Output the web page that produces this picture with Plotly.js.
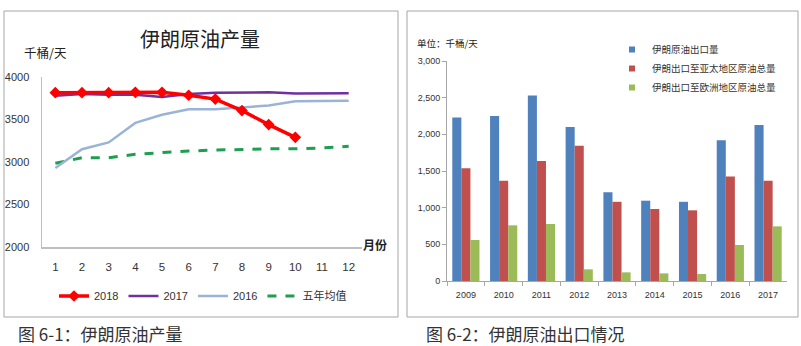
<!DOCTYPE html>
<html>
<head>
<meta charset="utf-8">
<script src="https://cdn.plot.ly/plotly-3.0.1.min.js"></script>
<style>html,body{margin:0;padding:0;background:#fff;overflow:hidden;width:801px;height:346px;}#chart{width:801px;height:346px;overflow:hidden;}</style>
</head>
<body>
<div id="chart"></div>
<script>
// ---- Left chart data: Iran crude production (kb/d) ----
var months = [1,2,3,4,5,6,7,8,9,10,11,12];
var monthLabels = ["1","2","3","4","5","6","7","8","9","10","11","12"];
var prod2018 = [3815,3815,3815,3820,3820,3785,3740,3605,3440,3290];
var prod2017 = [3780,3800,3790,3790,3765,3800,3815,3820,3820,3805,3810,3810];
var prod2016 = [2930,3150,3230,3460,3555,3620,3620,3645,3665,3715,3720,3720];
var prodAvg5 = [2985,3050,3050,3090,3110,3130,3140,3150,3155,3155,3165,3185];

// ---- Right chart data: Iran crude exports (kb/d) ----
var years = ["2009","2010","2011","2012","2013","2014","2015","2016","2017"];
var exportTotal = [2230,2250,2530,2100,1210,1095,1080,1918,2127];
var exportAsia  = [1536,1368,1636,1845,1080,982,964,1425,1368];
var exportEurope= [559,759,777,159,118,104,95,491,745];
var exportNames = ["伊朗原油出口量","伊朗出口至亚太地区原油总量","伊朗出口至欧洲地区原油总量"];
var exportColors = ["#4F81BD","#C0504D","#9BBB59"];

var W = 801, H = 346;
function px(x){return x/W;}
function py(y){return (H-y)/H;}

var cjk = "Noto Sans CJK SC, sans-serif";
var num = "Liberation Sans Narrow, Liberation Sans, Noto Sans CJK SC, sans-serif";

var traces = [
  {x: months, y: prodAvg5, name: "五年均值", type: "scatter", mode: "lines",
   line: {color: "#1E9E50", width: 3, dash: "dash"}, xaxis: "x", yaxis: "y", legend: "legend", legendrank: 4},
  {x: months, y: prod2016, name: "2016", type: "scatter", mode: "lines",
   line: {color: "#9AB4D6", width: 2.5}, xaxis: "x", yaxis: "y", legend: "legend", legendrank: 3},
  {x: months, y: prod2017, name: "2017", type: "scatter", mode: "lines",
   line: {color: "#7030A0", width: 2.5}, xaxis: "x", yaxis: "y", legend: "legend", legendrank: 2},
  {x: months.slice(0, prod2018.length), y: prod2018, name: "2018", type: "scatter", mode: "lines+markers",
   line: {color: "#FF0000", width: 3.5}, marker: {symbol: "diamond", size: 9, color: "#FF0000"},
   xaxis: "x", yaxis: "y", legend: "legend", legendrank: 1}
];

var exportSeries = [exportTotal, exportAsia, exportEurope];
exportSeries.forEach(function(vals, i){
  traces.push({x: years, y: vals, name: exportNames[i], type: "bar", marker: {color: exportColors[i]},
    xaxis: "x2", yaxis: "y2", showlegend: false, legendgroup: "g" + i});
});
// small square legend keys (as in the reference) for the bar series
exportNames.forEach(function(n, i){
  traces.push({x: [null], y: [null], name: n, type: "scatter", mode: "markers",
    marker: {symbol: "square", size: 6, color: exportColors[i]},
    xaxis: "x2", yaxis: "y2", legend: "legend2", legendgroup: "g" + i, legendrank: i + 1});
});

var layout = {
  width: W, height: H, autosize: false,
  margin: {l: 0, r: 0, t: 0, b: 0},
  paper_bgcolor: "#fff", plot_bgcolor: "rgba(0,0,0,0)",
  font: {family: num, color: "#333", size: 11},
  barmode: "group", bargap: 0.28, bargroupgap: 0,
  xaxis: {domain: [px(42), px(362)], range: [0.5, 12.5], tickvals: months, ticktext: monthLabels,
          showgrid: false, zeroline: false, showline: true, linecolor: "#BFBFBF", linewidth: 1.5,
          ticks: "", ticklabelstandoff: 9, tickfont: {size: 11.5, family: num, color: "#333"}, anchor: "y", fixedrange: true},
  yaxis: {domain: [py(247), py(77)], range: [2000, 4000], tickvals: [2000,2500,3000,3500,4000],
          showgrid: false, zeroline: false, showline: true, linecolor: "#BFBFBF", linewidth: 1.5,
          ticks: "", ticklabelstandoff: 9, tickfont: {size: 11, family: num, color: "#333"}, anchor: "x"},
  xaxis2: {domain: [px(447), px(787)], type: "category", showgrid: false, zeroline: false,
           showline: true, linecolor: "#A6A6A6", linewidth: 1, ticks: "outside", ticklen: 4, tickcolor: "#A6A6A6",
           tickson: "boundaries", tickfont: {size: 9, family: num, color: "#333"}, anchor: "y2", ticklabelstandoff: 5},
  yaxis2: {domain: [py(281), py(61)], range: [0, 3000], tickvals: [0,500,1000,1500,2000,2500,3000], tickformat: ",d",
           showgrid: false, zeroline: false, showline: true, linecolor: "#A6A6A6", linewidth: 1,
           ticks: "outside", ticklen: 4, tickcolor: "#A6A6A6", tickfont: {size: 9, family: num, color: "#333"}, anchor: "x2"},
  legend: {orientation: "h", x: px(203), xanchor: "center", y: py(296), yanchor: "middle",
           font: {size: 11, family: num, color: "#333"}, itemwidth: 30,
           traceorder: "normal", bgcolor: "rgba(0,0,0,0)"},
  legend2: {orientation: "v", x: px(612), xanchor: "left", y: py(35), yanchor: "top",
            font: {size: 9.5, family: cjk, color: "#333"}, itemwidth: 30, tracegroupgap: 0, bgcolor: "rgba(0,0,0,0)"},
  shapes: [
    {type: "rect", xref: "paper", yref: "paper", x0: px(4), x1: px(398), y0: py(317), y1: py(11), line: {color: "#A6A6A6", width: 1}},
    {type: "rect", xref: "paper", yref: "paper", x0: px(407), x1: px(798), y0: py(317), y1: py(11), line: {color: "#A6A6A6", width: 1}}
  ],
  annotations: [
    {text: "伊朗原油产量", xref: "paper", yref: "paper", x: px(200), y: py(38), xanchor: "center", yanchor: "middle",
     showarrow: false, font: {size: 20, family: cjk, color: "#222"}},
    {text: "千桶/天", xref: "paper", yref: "paper", x: px(22), y: py(53), xanchor: "left", yanchor: "middle",
     showarrow: false, font: {size: 12.5, family: cjk, color: "#222"}},
    {text: "<b>月份</b>", xref: "paper", yref: "paper", x: px(361), y: py(244), xanchor: "left", yanchor: "middle",
     showarrow: false, font: {size: 12, family: cjk, color: "#222"}},
    {text: "单位：千桶/天", xref: "paper", yref: "paper", x: px(415), y: py(43), xanchor: "left", yanchor: "middle",
     showarrow: false, font: {size: 9.5, family: cjk, color: "#222"}},
    {text: "图 6-1：伊朗原油产量", xref: "paper", yref: "paper", x: px(16), y: py(333), xanchor: "left", yanchor: "middle",
     showarrow: false, font: {size: 17, family: cjk, color: "#333"}},
    {text: "图 6-2：伊朗原油出口情况", xref: "paper", yref: "paper", x: px(424), y: py(333), xanchor: "left", yanchor: "middle",
     showarrow: false, font: {size: 17, family: cjk, color: "#333"}}
  ]
};

Plotly.newPlot("chart", traces, layout, {displayModeBar: false, staticPlot: true});
</script>
</body>
</html>
